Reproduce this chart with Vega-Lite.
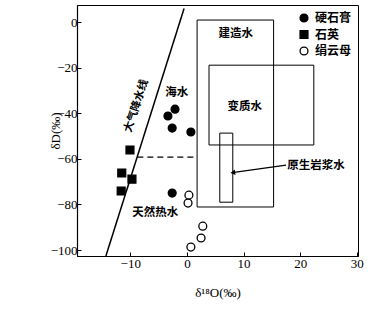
{
  "$schema": "https://vega.github.io/schema/vega-lite/v6.json",
  "width": 281,
  "height": 251,
  "autosize": {"type": "none"},
  "padding": {"left": 77, "top": 5, "right": 18, "bottom": 54},
  "background": "white",
  "config": {
    "view": {"stroke": "black", "strokeWidth": 1},
    "axis": {
      "domainColor": "black",
      "domainWidth": 1.2,
      "tickColor": "black",
      "tickSize": -4,
      "grid": false,
      "labelFont": "Liberation Serif",
      "labelFontSize": 13,
      "labelColor": "black",
      "titleFont": "Liberation Serif",
      "titleFontSize": 13,
      "titleFontWeight": "normal",
      "titleColor": "black"
    },
    "legend": {
      "orient": "none", "legendX": 221, "legendY": 7, "title": null, "padding": 0,
      "labelFont": "Noto Sans CJK SC", "labelFontSize": 12, "labelColor": "black", "labelFontWeight": "bold",
      "symbolStrokeColor": "black", "symbolStrokeWidth": 1.3, "symbolSize": 62, "rowPadding": 2.5, "labelOffset": 5
    }
  },
  "datasets": {
    "points": [
      {"x": -3.35, "y": -41.2, "type": "硬石膏"},
      {"x": -2.1, "y": -38.2, "type": "硬石膏"},
      {"x": -2.6, "y": -46.5, "type": "硬石膏"},
      {"x": 0.7, "y": -48.2, "type": "硬石膏"},
      {"x": -2.6, "y": -75.0, "type": "硬石膏"},
      {"x": -10.05, "y": -56.1, "type": "石英"},
      {"x": -11.5, "y": -66.2, "type": "石英"},
      {"x": -9.7, "y": -68.9, "type": "石英"},
      {"x": -11.6, "y": -74.1, "type": "石英"},
      {"x": 0.35, "y": -75.9, "type": "绢云母"},
      {"x": 0.2, "y": -79.4, "type": "绢云母"},
      {"x": 2.8, "y": -89.5, "type": "绢云母"},
      {"x": 2.5, "y": -94.7, "type": "绢云母"},
      {"x": 0.7, "y": -98.7, "type": "绢云母"}
    ],
    "mwl": [
      {"x": -14.3, "y": -102.6},
      {"x": -0.5, "y": 6.0}
    ],
    "dash": [
      {"x": -8.75, "y": -59.2},
      {"x": 1.7, "y": -59.2}
    ],
    "boxes": [
      {"name": "建造水", "x": 1.8, "x2": 15.3, "y": 0.9, "y2": -81.1},
      {"name": "变质水", "x": 3.9, "x2": 22.4, "y": -18.9, "y2": -53.9},
      {"name": "原生岩浆水", "x": 5.8, "x2": 8.1, "y": -48.7, "y2": -79.0}
    ],
    "arrow": [
      {"x": 17.5, "y": -62.7},
      {"x": 8.0, "y": -66.0}
    ],
    "arrowhead": [
      {"x": 8.1, "y": -66.0}
    ],
    "labels": [
      {"x": -1.8, "y": -31.1, "text": "海水"},
      {"x": 8.6, "y": -5.3, "text": "建造水"},
      {"x": 10.2, "y": -37.3, "text": "变质水"},
      {"x": 22.8, "y": -63.0, "text": "原生岩浆水"},
      {"x": -5.6, "y": -83.8, "text": "天然热水"}
    ],
    "mwlLabel": [
      {"x": -8.9, "y": -36.8, "text": "大气降水线"}
    ]
  },
  "encoding": {
    "x": {
      "field": "x",
      "type": "quantitative",
      "scale": {"domain": [-19.4, 30.2], "nice": false, "zero": false},
      "axis": {"values": [-10, 0, 10, 20, 30], "title": "δ¹⁸O(‰)", "labelFont": "Liberation Serif", "labelPadding": 5, "titlePadding": 16}
    },
    "y": {
      "field": "y",
      "type": "quantitative",
      "scale": {"domain": [-102.6, 7.5], "nice": false, "zero": false},
      "axis": {"values": [0, -20, -40, -60, -80, -100], "title": "δD(‰)", "labelFont": "Liberation Serif", "labelPadding": 4, "titlePadding": -12}
    }
  },
  "layer": [
    {
      "data": {"name": "boxes"},
      "mark": {"type": "rect", "fill": null, "fillOpacity": 0, "stroke": "black", "strokeWidth": 1},
      "encoding": {
        "x2": {"field": "x2"},
        "y2": {"field": "y2"}
      }
    },
    {
      "data": {"name": "mwl"},
      "mark": {"type": "line", "color": "black", "strokeWidth": 1.5},
      "encoding": {}
    },
    {
      "data": {"name": "dash"},
      "mark": {"type": "line", "color": "black", "strokeWidth": 1.2, "strokeDash": [6, 4]},
      "encoding": {}
    },
    {
      "data": {"name": "arrow"},
      "mark": {"type": "line", "color": "black", "strokeWidth": 1.2},
      "encoding": {}
    },
    {
      "data": {"name": "arrowhead"},
      "mark": {"type": "point", "shape": "triangle-left", "filled": true, "color": "black", "size": 30, "angle": -8, "opacity": 1}
    },
    {
      "data": {"name": "points"},
      "mark": {"type": "point", "filled": true, "strokeWidth": 1.3, "size": 62, "opacity": 1},
      "encoding": {
        "shape": {
          "field": "type",
          "type": "nominal",
          "scale": {"domain": ["硬石膏", "石英", "绢云母"], "range": ["circle", "square", "circle"]},
          "legend": {}
        },
        "fill": {
          "field": "type",
          "type": "nominal",
          "scale": {"domain": ["硬石膏", "石英", "绢云母"], "range": ["black", "black", "white"]},
          "legend": {}
        },
        "stroke": {
          "field": "type",
          "type": "nominal",
          "scale": {"domain": ["硬石膏", "石英", "绢云母"], "range": ["black", "black", "black"]},
          "legend": {}
        }
      }
    },
    {
      "data": {"name": "labels"},
      "mark": {"type": "text", "font": "Noto Sans CJK SC", "fontSize": 11.5, "fontWeight": "bold", "color": "black", "align": "center", "baseline": "middle"},
      "encoding": {"text": {"field": "text"}}
    },
    {
      "data": {"name": "mwlLabel"},
      "mark": {"type": "text", "font": "Noto Sans CJK SC", "fontSize": 11, "fontWeight": "bold", "color": "black", "align": "center", "baseline": "middle", "angle": -72},
      "encoding": {"text": {"field": "text"}}
    }
  ]
}
